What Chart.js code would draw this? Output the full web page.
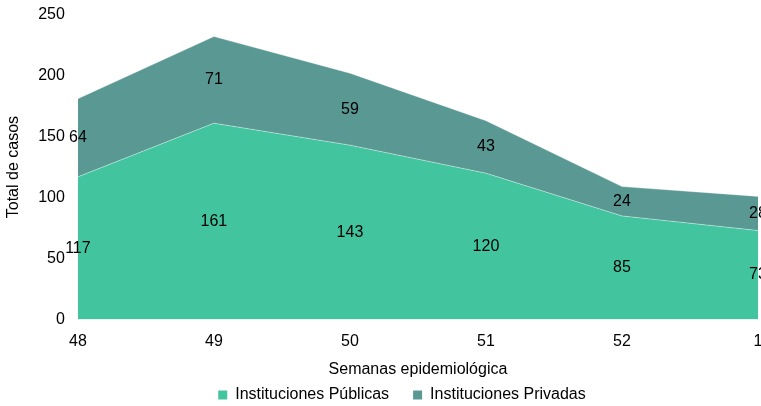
<!DOCTYPE html>
<html>
<head>
<meta charset="utf-8">
<script src="https://cdn.jsdelivr.net/npm/chart.js@4"></script>
<style>
  html, body { margin: 0; padding: 0; overflow: hidden; background: #fff; }
  #wrap { width: 800px; height: 406px; }
</style>
</head>
<body>
<div id="wrap"><canvas id="chart"></canvas></div>
<script>
const WEEKS = ['48', '49', '50', '51', '52', '1'];
const PUBLICAS = [117, 161, 143, 120, 85, 73];
const PRIVADAS = [64, 71, 59, 43, 24, 28];
const Y_TICKS = [0, 50, 100, 150, 200, 250];

const COLOR_PUB = '#42c59e';
const COLOR_PRIV = '#5a9894';
const FONT = '"Liberation Sans", Arial, sans-serif';
const LEGEND_SHIFT = 21;

// draws each value in the middle of its band
const bandLabels = {
    id: 'bandLabels',
    afterDatasetsDraw(chart) {
        const ctx = chart.ctx;
        const x = chart.scales.x;
        const y = chart.scales.y;
        ctx.save();
        ctx.font = '16px ' + FONT;
        ctx.fillStyle = '#000';
        ctx.textAlign = 'center';
        ctx.textBaseline = 'middle';
        WEEKS.forEach((w, i) => {
            const px = x.getPixelForValue(i);
            const pub = PUBLICAS[i];
            const priv = PRIVADAS[i];
            ctx.fillText(String(pub), px, y.getPixelForValue(pub / 2));
            ctx.fillText(String(priv), px, y.getPixelForValue(pub + priv / 2));
        });
        ctx.restore();
    }
};

// the legend sits centred on the full (uncropped) width
const legendShift = {
    id: 'legendShift',
    afterLayout(chart) {
        chart.legend.left += LEGEND_SHIFT;
        chart.legend.right += LEGEND_SHIFT;
    }
};

new Chart(document.getElementById('chart'), {
    type: 'line',
    data: {
        labels: WEEKS,
        datasets: [
            {
                label: 'Instituciones Públicas',
                data: PUBLICAS,
                backgroundColor: COLOR_PUB,
                borderColor: 'rgba(255,255,255,0.4)',
                borderWidth: 1,
                fill: 'origin',
                pointRadius: 0,
                tension: 0
            },
            {
                label: 'Instituciones Privadas',
                data: PRIVADAS,
                backgroundColor: COLOR_PRIV,
                borderColor: 'rgba(255,255,255,0.3)',
                borderWidth: 1,
                fill: '-1',
                pointRadius: 0,
                tension: 0
            }
        ]
    },
    options: {
        responsive: true,
        maintainAspectRatio: false,
        animation: false,
        layout: { padding: { top: 5, right: 42, left: 4, bottom: -7 } },
        plugins: {
            legend: {
                position: 'bottom',
                labels: {
                    font: { family: FONT, size: 16 },
                    color: '#000',
                    boxWidth: 9,
                    boxHeight: 9,
                    padding: 24,
                    generateLabels(chart) {
                        return chart.data.datasets.map((ds, i) => ({
                            text: ds.label,
                            fillStyle: ds.backgroundColor,
                            strokeStyle: ds.backgroundColor,
                            lineWidth: 0,
                            datasetIndex: i,
                            fontColor: '#000'
                        }));
                    }
                }
            },
            tooltip: { enabled: false }
        },
        scales: {
            x: {
                offset: false,
                grid: { display: false },
                border: { display: false },
                ticks: {
                    font: { family: FONT, size: 16 },
                    color: '#000',
                    padding: 4,
                    maxRotation: 0
                },
                title: {
                    display: true,
                    text: 'Semanas epidemiológica',
                    font: { family: FONT, size: 16 },
                    color: '#000',
                    padding: { top: 5, bottom: -16 }
                }
            },
            y: {
                stacked: true,
                min: 0,
                max: 250,
                afterBuildTicks(scale) {
                    scale.ticks = Y_TICKS.map(v => ({ value: v }));
                },
                grid: { display: false },
                border: { display: false },
                ticks: {
                    font: { family: FONT, size: 16 },
                    color: '#000',
                    padding: 5
                },
                title: {
                    display: true,
                    text: 'Total de casos',
                    font: { family: FONT, size: 16 },
                    color: '#000',
                    padding: { top: 0, bottom: 10 }
                }
            }
        }
    },
    plugins: [bandLabels, legendShift]
});
</script>
</body>
</html>
